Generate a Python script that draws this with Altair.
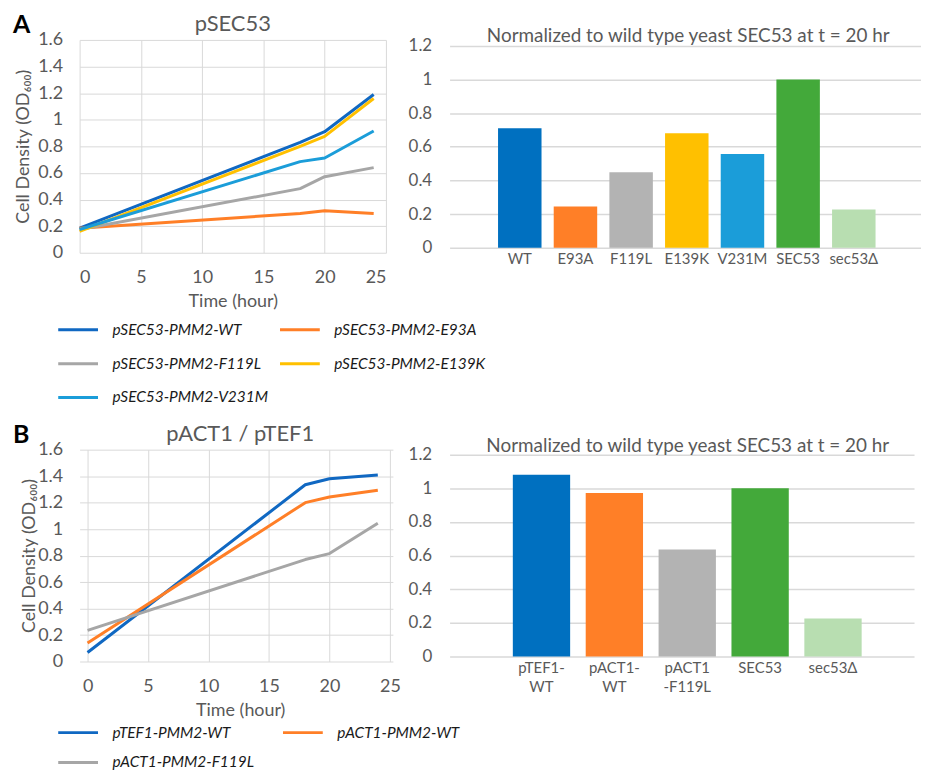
import altair as alt
import pandas as pd

FONT = "Lato"
GRID = "#D9D9D9"
TXT = "#595959"

# ---------------- Panel A: growth curves ----------------
time_a = [0, 18, 20, 24]
series_a = ["pSEC53-PMM2-WT", "pSEC53-PMM2-E93A", "pSEC53-PMM2-F119L",
            "pSEC53-PMM2-E139K", "pSEC53-PMM2-V231M"]
od_a_wt = [0.185, 0.83, 0.91, 1.19]
od_a_e93a = [0.185, 0.295, 0.315, 0.295]
od_a_f119l = [0.175, 0.482, 0.572, 0.64]
od_a_e139k = [0.16, 0.80, 0.875, 1.16]
od_a_v231m = [0.175, 0.685, 0.712, 0.915]
colors_a = ["#1068C2", "#FF7F27", "#A6A6A6", "#FFC000", "#1B9DD9"]

# ---------------- Panel B: growth curves ----------------
time_b = [0, 18, 20, 24]
series_b = ["pTEF1-PMM2-WT", "pACT1-PMM2-WT", "pACT1-PMM2-F119L"]
od_b_tef1 = [0.068, 1.335, 1.38, 1.408]
od_b_act1 = [0.14, 1.2, 1.243, 1.293]
od_b_f119l = [0.235, 0.77, 0.815, 1.045]
colors_b = ["#1068C2", "#FF7F27", "#A6A6A6"]

# ---------------- Bar charts ----------------
bar_a_names = ["WT", "E93A", "F119L", "E139K", "V231M", "SEC53", "sec53Δ"]
bar_a_values = [0.71, 0.245, 0.449, 0.68, 0.557, 1.0, 0.227]
bar_a_colors = ["#0070C0", "#FF7F27", "#B3B3B3", "#FFC000", "#1B9DD9", "#43A93A", "#B8DEB1"]

bar_b_names = ["pTEF1-\nWT", "pACT1-\nWT", "pACT1\n-F119L", "SEC53", "sec53Δ"]
bar_b_values = [1.081, 0.972, 0.636, 1.0, 0.226]
bar_b_colors = ["#0070C0", "#FF7F27", "#B3B3B3", "#43A93A", "#B8DEB1"]

BAR_TITLE = "Normalized to wild type yeast SEC53 at t = 20 hr"
y_ticks_line = [0, 0.2, 0.4, 0.6, 0.8, 1, 1.2, 1.4, 1.6]
x_ticks_line = [0, 5, 10, 15, 20, 25]
y_ticks_bar = [0, 0.2, 0.4, 0.6, 0.8, 1, 1.2]


def long_df(times, names, arrays):
    rows = []
    for n, arr in zip(names, arrays):
        for t, v in zip(times, arr):
            rows.append({"time": t, "od": v, "series": n})
    return pd.DataFrame(rows)


def text_layer(txt, x, y, size, color=TXT, weight="normal", align="center"):
    return alt.Chart(pd.DataFrame({"t": [txt]})).mark_text(
        font=FONT, fontSize=size, color=color, fontWeight=weight,
        align=align, baseline="alphabetic"
    ).encode(text="t:N", x=alt.value(x), y=alt.value(y))


def line_panel(df, names, colors, title, letter, width, height, xdom, x0px,
               legend_y, col_pad, row_pad, ytitle_x):
    legend = alt.Legend(
        orient="none", legendX=-23, legendY=legend_y, columns=2, title=None,
        direction="horizontal",
        symbolType="stroke", symbolSize=1600, symbolStrokeWidth=3,
        labelFont=FONT, labelFontStyle="italic", labelFontSize=15.5,
        labelColor="#1a1a1a", labelOffset=13, columnPadding=col_pad,
        rowPadding=row_pad, gridAlign="all", padding=0, labelLimit=300,
    )
    lines = alt.Chart(df).mark_line(strokeWidth=3, strokeJoin="round").encode(
        x=alt.X("time:Q",
                scale=alt.Scale(domain=xdom, nice=False, zero=False),
                axis=alt.Axis(values=x_ticks_line, title="Time (hour)",
                              grid=True, gridColor=GRID, domain=False,
                              ticks=False, tickSize=0, labelFontSize=18,
                              labelColor=TXT, labelPadding=16, labelFont=FONT,
                              titleFont=FONT, titleFontSize=18,
                              titleFontWeight="normal", titleColor=TXT,
                              titleX=x0px + (width - x0px) / 2, titleY=49,
                              titleBaseline="middle", titleAlign="center")),
        y=alt.Y("od:Q",
                scale=alt.Scale(domain=[0, 1.6], nice=False, zero=True),
                axis=alt.Axis(values=y_ticks_line, format="~g",
                              title="Cell Density (OD₆₀₀)", grid=True,
                              gridColor=GRID, domain=False, ticks=False,
                              tickSize=0, labelFontSize=18, labelColor=TXT,
                              labelPadding=17, labelFont=FONT,
                              titleFont=FONT, titleFontSize=18,
                              titleFontWeight="normal", titleColor=TXT,
                              titleX=ytitle_x, titleY=height / 2,
                              titleAngle=-90, titleBaseline="middle",
                              titleAlign="center")),
        color=alt.Color("series:N", sort=names,
                        scale=alt.Scale(domain=names, range=colors),
                        legend=legend),
    )
    cx = x0px + (width - x0px) / 2
    return alt.layer(
        lines,
        text_layer(title, cx, -9, 22),
        text_layer(letter, -67, -7, 25, color="#000000", weight="bold",
                   align="left"),
    ).properties(width=width, height=height)


def bar_panel(names, values, colors, width, height, ytop, p_in, p_out, algn,
              title_dx, multiline=False):
    df = pd.DataFrame({"name": names, "value": values})
    xaxis = dict(title=None, labelAngle=0, domain=False, ticks=False,
                 tickSize=0, grid=False, labelFontSize=15, labelColor=TXT,
                 labelFont=FONT, labelPadding=4)
    if multiline:
        xaxis["labelExpr"] = "split(datum.label, '\\n')"
        xaxis["labelLineHeight"] = 19
    bars = alt.Chart(df).mark_bar().encode(
        x=alt.X("name:N", sort=names,
                scale=alt.Scale(paddingInner=p_in, paddingOuter=p_out,
                                align=algn),
                axis=alt.Axis(**xaxis)),
        y=alt.Y("value:Q",
                scale=alt.Scale(domain=[0, ytop], nice=False),
                axis=alt.Axis(values=y_ticks_bar, format="~g", title=None,
                              grid=True, gridColor=GRID, gridWidth=1.5,
                              domain=False, ticks=False, tickSize=0,
                              labelFontSize=17, labelColor=TXT,
                              labelFont=FONT, labelPadding=18)),
        color=alt.Color("name:N", sort=names,
                        scale=alt.Scale(domain=names, range=colors),
                        legend=None),
    )
    return alt.layer(
        bars,
        text_layer(BAR_TITLE, width / 2 + title_dx, 2, 19),
    ).properties(width=width, height=height)


df_a = long_df(time_a, series_a,
               [od_a_wt, od_a_e93a, od_a_f119l, od_a_e139k, od_a_v231m])
df_b = long_df(time_b, series_b, [od_b_tef1, od_b_act1, od_b_f119l])

# line A: plot 308 wide, 0..25
line_a = line_panel(df_a, series_a, colors_a, "pSEC53", "A", 308, 214,
                    [0, 25], 0, 270, 5, 4, -56)
# line B: plot starts 8px further right -> extended domain
line_b = line_panel(df_b, series_b, colors_b, "pACT1 / pTEF1", "B", 315, 213,
                    [-0.658, 25.247], 8, 263, 22, 0, -50)

bar_a = bar_panel(bar_a_names, bar_a_values, bar_a_colors, 474, 209,
                  1.2 * 209 / 203, 0.219, 0.8435, 0.516, 3)
bar_b = bar_panel(bar_b_names, bar_b_values, bar_b_colors, 467, 208,
                  1.2 * 208 / 203, 0.2136, 0.7933, 0.547, 6, multiline=True)

chart = alt.concat(
    line_a, bar_a, line_b, bar_b, columns=2,
    spacing={"row": 198, "column": 57},
    bounds="flush",
    align={"row": "each", "column": "none"},
).resolve_scale(
    color="independent"
).properties(
    padding={"left": 5, "top": 3, "right": 0, "bottom": 0}
).configure(font=FONT).configure_view(stroke=None)

chart.save("out.html", embed_options={"renderer": "svg", "actions": False})
